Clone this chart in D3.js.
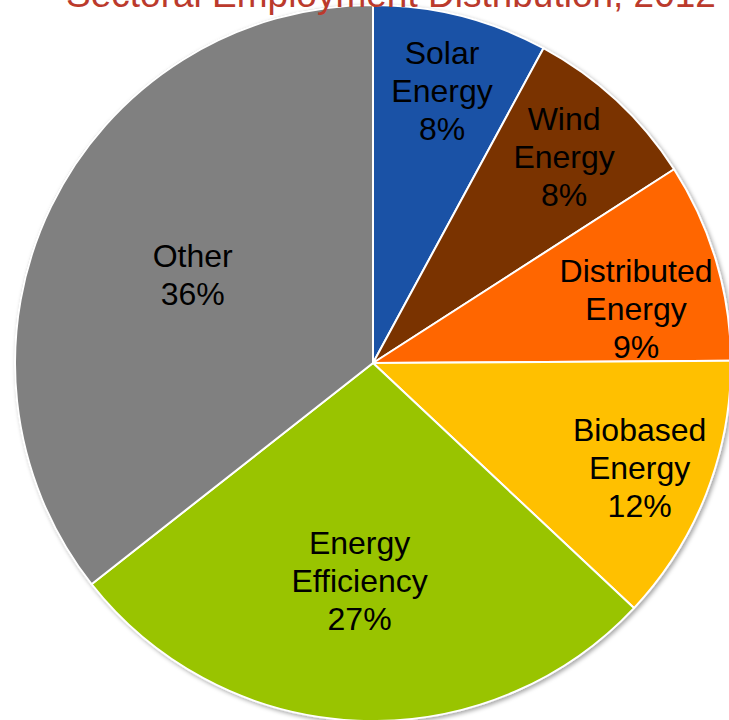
<!DOCTYPE html>
<html>
<head>
<meta charset="utf-8">
<script src="https://d3js.org/d3.v7.min.js"></script>
<style>
  body { margin: 0; background: #fff; }
  svg { display: block; }
</style>
</head>
<body>
<div id="chart"></div>
<script>
// data (share of employment, %)
var sectors = ["Solar Energy", "Wind Energy", "Distributed Energy", "Biobased Energy", "Energy Efficiency", "Other"];
var shares = [7.9, 8.0, 9.0, 12.1, 27.4, 35.6];
var labelLines = [["Solar", "Energy"], ["Wind", "Energy"], ["Distributed", "Energy"], ["Biobased", "Energy"], ["Energy", "Efficiency"], ["Other"]];
var colors = ["#1a52a6", "#7a3300", "#ff6600", "#ffc000", "#99c400", "#808080"];
var title = "Sectoral Employment Distribution, 2012";

var svgWidth = 729, svgHeight = 720;
var cx = 373, cy = 363, radius = 358;

var svg = d3.select("#chart").append("svg")
    .attr("width", svgWidth).attr("height", svgHeight);

// soft shadow under the pie
var defs = svg.append("defs");
var f = defs.append("filter").attr("id", "shadow")
    .attr("x", "-10%").attr("y", "-10%").attr("width", "120%").attr("height", "120%");
f.append("feDropShadow").attr("dx", 2).attr("dy", 2).attr("stdDeviation", 2)
    .attr("flood-color", "#000").attr("flood-opacity", 0.35);

var table = sectors.map(function(s, i) {
    return { name: s, value: shares[i], lines: labelLines[i], color: colors[i] };
});

var pie = d3.pie().value(function(d) { return d.value; }).sort(null);
var arc = d3.arc().innerRadius(0).outerRadius(radius);
var arcs = pie(table);

var g = svg.append("g").attr("transform", `translate(${cx}, ${cy})`);

g.append("circle").attr("r", radius)
    .attr("fill", "#fff")
    .attr("stroke", "#d6d6d6").attr("stroke-width", 2)
    .attr("filter", "url(#shadow)");

g.selectAll("path.slice").data(arcs).enter().append("path")
    .attr("class", "slice")
    .attr("d", arc)
    .attr("fill", function(d) { return d.data.color; })
    .attr("stroke", "#fff").attr("stroke-width", 2)
    .attr("stroke-linejoin", "round");

// labels: small slices sit near the rim, big ones further in
var lineH = 38;
var nudge = { "Distributed Energy": 5, "Energy Efficiency": 1 };
var labels = g.selectAll("text.lbl").data(arcs).enter().append("text")
    .attr("class", "lbl")
    .attr("text-anchor", "middle")
    .attr("font-family", "Liberation Sans, Arial, sans-serif")
    .attr("font-size", 32)
    .attr("fill", "#000")
    .attr("transform", function(d) {
        var frac = d.data.value / 100;
        var k = frac < 0.2 ? 0.785 : (frac > 0.3 ? 0.56 : 0.61);
        var a = (d.startAngle + d.endAngle) / 2 + (nudge[d.data.name] || 0) * Math.PI / 180;
        var rr = radius * k;
        if (d.data.name === "Biobased Energy") rr = radius * 0.8;
        if (d.data.name === "Distributed Energy") rr = radius * 0.75;
        var x = Math.sin(a) * rr, y = -Math.cos(a) * rr;
        var n = d.data.lines.length + 1;
        return `translate(${x}, ${y - (n - 1) * lineH / 2 + 11})`;
    });

labels.each(function(d) {
    var t = d3.select(this);
    var lines = d.data.lines.concat([Math.round(d.data.value) + "%"]);
    lines.forEach(function(l, i) {
        t.append("tspan").attr("x", 0).attr("dy", i === 0 ? 0 : lineH).text(l);
    });
});

svg.append("text")
    .attr("x", 391).attr("y", 7)
    .attr("text-anchor", "middle")
    .attr("font-family", "Liberation Sans, Arial, sans-serif")
    .attr("font-size", 37)
    .attr("fill", "#bb3a2c")
    .text(title);
</script>
</body>
</html>
